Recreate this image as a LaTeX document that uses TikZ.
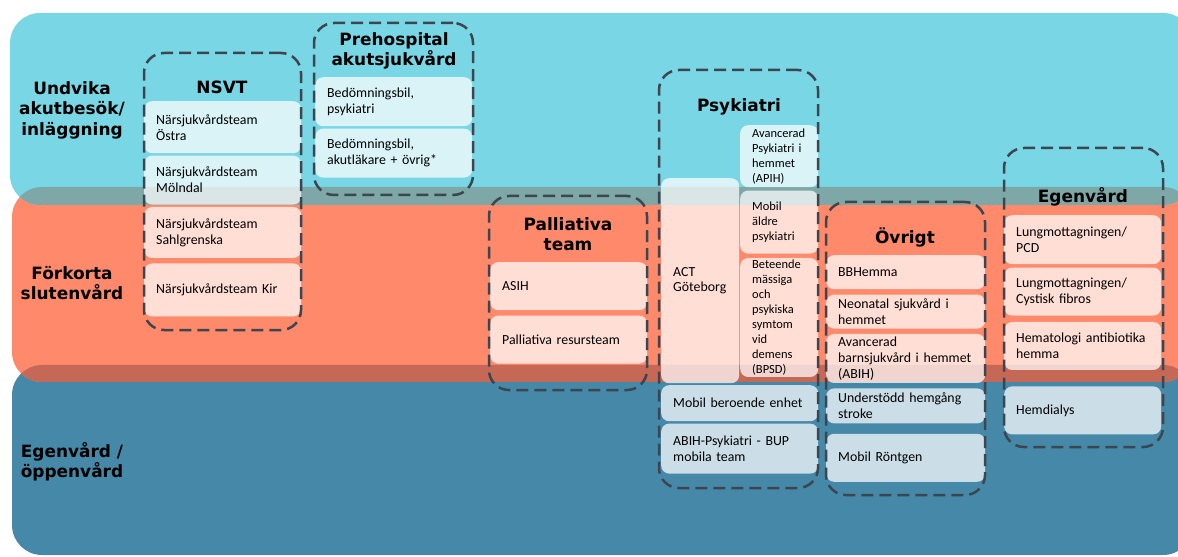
\documentclass[tikz,border=0pt]{standalone}
\usepackage{fontspec}
\setmainfont{Carlito}
\newfontfamily\headfont{DejaVu Sans}
\usepackage{xcolor}
\definecolor{bandcyan}{RGB}{121,214,228}
\definecolor{bandorange}{RGB}{255,137,107}
\definecolor{bandblue}{RGB}{70,136,168}
\definecolor{mixcyan}{RGB}{125,168,167}
\definecolor{mixorange}{RGB}{198,104,86}
\definecolor{framegray}{RGB}{60,70,80}
\usetikzlibrary{positioning}

\begin{document}
\begin{tikzpicture}[
  x=1bp, y=-1bp,
  band/.style={rounded corners=30bp},
  bandlabel/.style={align=center, font=\headfont\bfseries\fontsize{17}{20.5}\selectfont},
  grouptitle/.style={align=center, font=\headfont\bfseries\fontsize{17}{20.5}\selectfont},
  item/.style={rectangle, rounded corners=8bp, fill=white, fill opacity=0.72, text opacity=1, inner xsep=12bp, inner ysep=1bp, align=left, text width=#1, font=\fontsize{13.9}{16}\selectfont},
  smallitem/.style={item=#1, font=\fontsize{12.5}{15}\selectfont},
  frame/.style={rectangle, rounded corners=20bp, draw=framegray, line width=2.5bp, dash pattern=on 12bp off 6bp, inner sep=0pt, outer sep=0pt, anchor=north west}
]
  \useasboundingbox (0,0) rectangle (1178,557);
  \clip (0,0) rectangle (1178,557);

  % Bands
  \fill[bandblue, band] (12,365) rectangle (1193,555);
  \fill[bandorange, band] (12,187) rectangle (1193,382);
  \fill[bandcyan, band] (10,13) rectangle (1193,205);
  \begin{scope}
    \clip[band] (10,13) rectangle (1193,205);
    \fill[mixcyan, band] (12,187) rectangle (1193,382);
  \end{scope}
  \begin{scope}
    \clip[band] (12,187) rectangle (1193,382);
    \fill[mixorange, band] (12,365) rectangle (1193,555);
  \end{scope}

  % Band labels
  \node[bandlabel] (undvika) at (72,110) {Undvika\\akutbesök/\\inläggning};
  \node[bandlabel] (forkorta) at (72,283) {Förkorta\\slutenvård};
  \node[bandlabel] (oppenvard) at (72,462) {Egenvård /\\öppenvård};

  % NSVT
  \node[grouptitle] (nsvttitle) at (222,87) {NSVT};
  \node[item=133bp, minimum height=52bp, anchor=north west] (ostra) at (144,101) {Närsjukvårdsteam\\Östra};
  \node[item=133bp, minimum height=49bp, below=2bp of ostra] (molndal) {Närsjukvårdsteam\\Mölndal};
  \node[item=133bp, minimum height=51bp, below=2bp of molndal] (sahlgrenska) {Närsjukvårdsteam\\Sahlgrenska};
  \node[item=133bp, minimum height=53bp, below=5bp of sahlgrenska] (kir) {Närsjukvårdsteam Kir};

  % Prehospital
  \node[grouptitle] (prehosptitle) at (394,51) {Prehospital\\akutsjukvård};
  \node[item=133bp, minimum height=49bp, anchor=north west] (bilpsyk) at (315,77) {Bedömningsbil,\\psykiatri};
  \node[item=133bp, minimum height=49bp, below=2bp of bilpsyk] (bilakut) {Bedömningsbil,\\akutläkare + övrig*};

  % Palliativa team
  \node[grouptitle] (palltitle) at (568,234) {Palliativa\\team};
  \node[item=133bp, minimum height=48bp, anchor=north west] (asih) at (490,262) {ASIH};
  \node[item=133bp, minimum height=48bp, below=5bp of asih] (resurs) {Palliativa resursteam};

  % Psykiatri
  \node[grouptitle] (psyktitle) at (739,107) {Psykiatri};
  \node[smallitem=54bp, minimum height=62bp, anchor=north west] (apih) at (740,125) {Avancerad\\Psykiatri i\\hemmet\\(APIH)};
  \node[smallitem=54bp, minimum height=63bp, below=3bp of apih] (aldre) {Mobil\\äldre\\psykiatri};
  \node[smallitem=54bp, minimum height=119bp, below=4bp of aldre] (bpsd) {Beteende\\mässiga\\och\\psykiska\\symtom\\vid\\demens\\(BPSD)};
  \node[item=54bp, minimum height=205bp, anchor=north west] (act) at (661,178) {ACT\\Göteborg};
  \node[item=133bp, minimum height=36bp, anchor=north west] (beroende) at (661,385) {Mobil beroende enhet};
  \node[item=133bp, minimum height=50bp, below=2bp of beroende] (bup) {ABIH-Psykiatri - BUP\\mobila team};

  % Övrigt
  \node[grouptitle] (ovrigttitle) at (905,237) {Övrigt};
  \node[item=135bp, minimum height=34bp, anchor=north west] (bbhemma) at (826,255) {BBHemma};
  \node[item=135bp, minimum height=34bp, below=5bp of bbhemma] (neonatal) {Neonatal sjukvård i\\hemmet};
  \node[item=135bp, minimum height=49bp, below=5bp of neonatal] (abih) {Avancerad\\barnsjukvård i hemmet\\(ABIH)};
  \node[item=135bp, minimum height=35bp, below=5bp of abih] (stroke) {Understödd hemgång\\stroke};
  \node[item=135bp, minimum height=48bp, below=10bp of stroke] (rontgen) {Mobil Röntgen};

  % Egenvård
  \node[grouptitle] (egentitle) at (1083,197) {Egenvård};
  \node[item=133bp, minimum height=49bp, anchor=north west] (pcd) at (1004,215) {Lungmottagningen/\\PCD};
  \node[item=133bp, minimum height=48bp, below=3bp of pcd] (cf) {Lungmottagningen/\\Cystisk fibros};
  \node[item=133bp, minimum height=48bp, below=6bp of cf] (hemato) {Hematologi antibiotika\\hemma};
  \node[item=133bp, minimum height=48bp, below=16bp of hemato] (dialys) {Hemdialys};

  % Dashed group frames
  \node[frame, minimum width=157bp, minimum height=277bp] (nsvt) at (144,53) {};
  \node[frame, minimum width=159bp, minimum height=172bp] (prehosp) at (314,23) {};
  \node[frame, minimum width=158bp, minimum height=194bp] (palliativa) at (489,196) {};
  \node[frame, minimum width=159bp, minimum height=418bp] (psykiatri) at (659,70) {};
  \node[frame, minimum width=159bp, minimum height=293bp] (ovrigt) at (826,202) {};
  \node[frame, minimum width=159bp, minimum height=299bp] (egenvard) at (1004,148) {};
\end{tikzpicture}
\end{document}
